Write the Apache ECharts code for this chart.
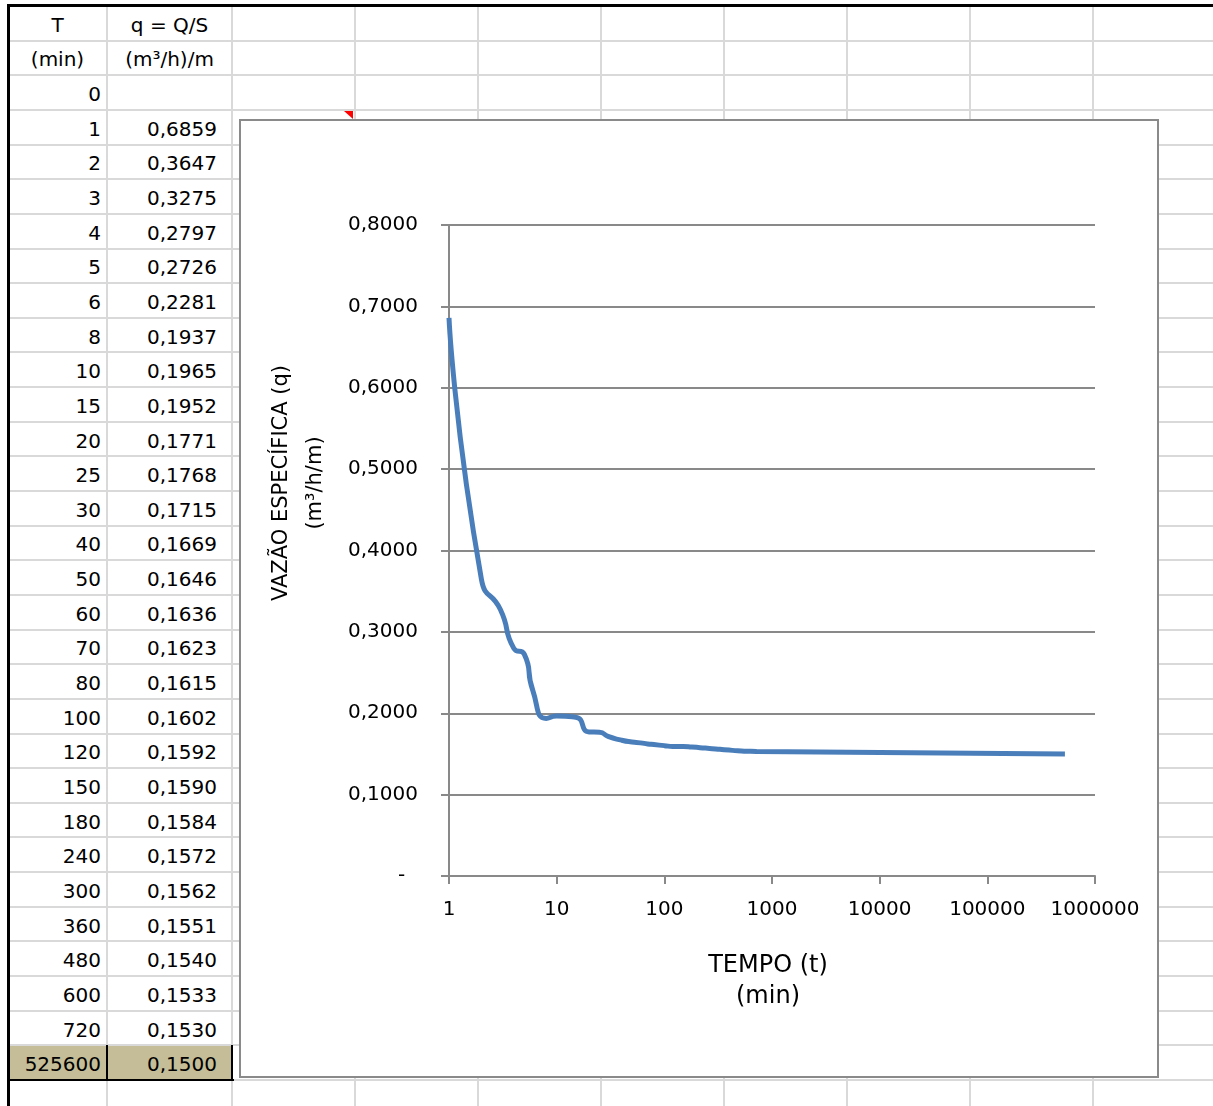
<!DOCTYPE html>
<html><head><meta charset="utf-8">
<script src="https://cdn.jsdelivr.net/npm/echarts@6/dist/echarts.min.js"></script>
<style>
html,body{margin:0;padding:0;background:#fff;width:1213px;height:1106px;overflow:hidden;}
#sheet{position:absolute;left:0;top:0;width:1213px;height:1106px;font-family:'DejaVu Sans';font-size:20px;color:#000;}
.h{position:absolute;height:2px;background:#d9d9d9;}
.v{position:absolute;width:2px;background:#d9d9d9;}
.c{position:absolute;white-space:nowrap;display:flex;align-items:center;box-sizing:border-box;}
#chart{position:absolute;left:240px;top:120px;width:918px;height:957px;background:#fff;}
#frame{position:absolute;left:239px;top:119px;width:920px;height:959px;box-sizing:border-box;border:2px solid #8a8a8a;pointer-events:none;}
</style></head><body>
<div id="sheet"></div>
<div id="chart"></div>
<div id="frame"></div>
<script>
// ---- data ----
const tMin = [0,1,2,3,4,5,6,8,10,15,20,25,30,40,50,60,70,80,100,120,150,180,240,300,360,480,600,720,525600];
const qVal = [null,0.6859,0.3647,0.3275,0.2797,0.2726,0.2281,0.1937,0.1965,0.1952,0.1771,0.1768,0.1715,0.1669,0.1646,0.1636,0.1623,0.1615,0.1602,0.1592,0.1590,0.1584,0.1572,0.1562,0.1551,0.1540,0.1533,0.1530,0.1500];
const headerRow1 = ['T','q = Q/S'];
const headerRow2 = ['(min)','(m³/h)/m'];
const yTitle = 'VAZÃO ESPECÍFICA (q)\n(m³/h/m)';
const xTitle = 'TEMPO (t)\n(min)';

// ---- spreadsheet ----
const sheet = document.getElementById('sheet');
const colEdges = [8,107,232,355,478,601,724,847,970,1093,1216];
const rowTop0 = 6, rowH = 34.645;
function add(cls, css, text){const d=document.createElement('div');d.className=cls;Object.assign(d.style,css);if(text!==undefined)d.textContent=text;sheet.appendChild(d);return d;}
const nRows = 2 + tMin.length;
const hlTop = rowTop0 + (nRows-1)*rowH;
add('', {position:'absolute',left:'9px',top:hlTop+'px',width:'223px',height:rowH+'px',background:'#c4bd97'});
for(let i=1;i<=nRows+1;i++){const y=rowTop0+i*rowH;add('h',{left:'8px',top:(y-1)+'px',width:'1210px'});}
for(let j=1;j<colEdges.length-1;j++){add('v',{left:(colEdges[j]-1)+'px',top:'6px',height:'1100px'});}
add('',{position:'absolute',left:'8px',top:(hlTop+rowH-1)+'px',width:'226px',height:'2px',background:'#000'});
add('',{position:'absolute',left:'106px',top:(hlTop)+'px',width:'2px',height:(rowH+1)+'px',background:'#000'});
add('',{position:'absolute',left:'231px',top:(hlTop)+'px',width:'2px',height:(rowH+1)+'px',background:'#000'});
add('',{position:'absolute',left:'7px',top:'4px',width:'1206px',height:'3px',background:'#000'});
add('',{position:'absolute',left:'7px',top:'4px',width:'3px',height:'1102px',background:'#000'});
add('',{position:'absolute',left:'344px',top:'111px',width:'0',height:'0',borderTop:'8px solid #ff0000',borderLeft:'9px solid transparent'});
function cell(r,col,text,align){
  const top=rowTop0+r*rowH;
  const left=colEdges[col], w=colEdges[col+1]-colEdges[col];
  const css={left:left+'px',top:(top+1.5)+'px',width:w+'px',height:rowH+'px'};
  if(align==='center'){css.justifyContent='center';}
  else {css.justifyContent='flex-end';css.paddingRight=(col===0?6:15)+'px';}
  add('c',css,text);
}
cell(0,0,headerRow1[0],'center');cell(0,1,headerRow1[1],'center');
cell(1,0,headerRow2[0],'center');cell(1,1,headerRow2[1],'center');
tMin.forEach((t,i)=>{
  cell(2+i,0,String(t),'right');
  if(qVal[i]!==null) cell(2+i,1,qVal[i].toFixed(4).replace('.',','),'right');
});

// ---- chart ----
const chart = echarts.init(document.getElementById('chart'));
const pts = tMin.map((t,i)=>[t,qVal[i]]).filter(p=>p[1]!==null);
const gray = '#898989';
const F = 'DejaVu Sans';
chart.setOption({
  animation:false,
  backgroundColor:'#fff',
  grid:{left:209,top:105,right:63,bottom:201},
  xAxis:{type:'log',logBase:10,min:1,max:1000000,splitNumber:6,
    axisLine:{show:true,lineStyle:{color:gray,width:2}},
    axisTick:{show:true,length:8,lineStyle:{color:gray,width:2}},
    minorTick:{show:false},splitLine:{show:false},
    axisLabel:{margin:24,fontSize:20,color:'#000',fontFamily:F,formatter:v=>String(Math.round(v))},
    name:xTitle,nameLocation:'middle',nameGap:74,
    nameTextStyle:{fontSize:24,lineHeight:31,color:'#000',fontFamily:F,padding:[0,8,0,0]}
  },
  yAxis:{type:'value',min:0,max:0.8,interval:0.1,
    axisLine:{show:true,lineStyle:{color:gray,width:2}},
    axisTick:{show:true,length:8,lineStyle:{color:gray,width:2}},
    splitLine:{show:true,lineStyle:{color:gray,width:2}},
    axisLabel:{margin:31,fontSize:20,color:'#000',fontFamily:F,padding:[5,0,0,0],
      formatter:v=>Math.abs(v)<1e-9?'-  ':v.toFixed(4).replace('.',',')}
  },
  graphic:[{type:'text',x:59,y:363,rotation:Math.PI/2,
    style:{text:yTitle,font:'21px "DejaVu Sans"',fill:'#000',textAlign:'center',textVerticalAlign:'middle',lineHeight:34}}],
  series:[{type:'line',data:pts,smooth:0.6,showSymbol:false,
    lineStyle:{color:'#4a7ebb',width:5},itemStyle:{color:'#4a7ebb'}}]
});
</script>
</body></html>
